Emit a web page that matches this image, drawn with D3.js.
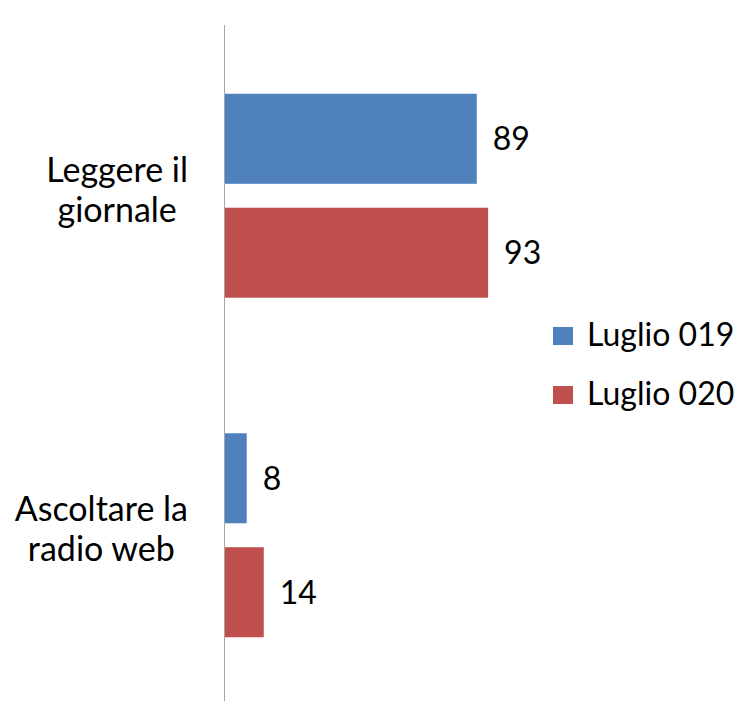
<!DOCTYPE html>
<html>
<head>
<meta charset="utf-8">
<script src="https://cdn.jsdelivr.net/npm/d3@7"></script>
<style>
  body { margin: 0; background: #fff; }
  text { font-family: Lato, "Noto Sans", sans-serif; fill: #000; }
</style>
</head>
<body>
<script>
// data
const categories = ['Leggere il giornale', 'Ascoltare la radio web'];
const categoryLines = [['Leggere il', 'giornale'], ['Ascoltare la', 'radio web']];
const series = ['Luglio 019', 'Luglio 020'];
const values2019 = [89, 8];
const values2020 = [93, 14];
const colors = ['#4F81BD', '#C0504D'];

const width = 740, height = 701;
const fontSize = 32;
const catFontSize = 34;

const svg = d3.select('body')
  .append('svg')
  .attr('width', width)
  .attr('height', height);

// scales
const x = d3.scaleLinear().domain([0, 100]).range([224, 508]);
const y = d3.scaleBand().domain(categories).range([26, 705]).paddingInner(0).paddingOuter(0);
const groupH = 204;
const ySeries = d3.scaleBand().domain(series).range([0, groupH]).paddingInner(0.21).paddingOuter(0);

const rows = categories.map((c, i) => ({
  cat: c,
  vals: [values2019[i], values2020[i]]
}));

// bars
const groups = svg.selectAll('g.cat')
  .data(rows)
  .enter()
  .append('g')
  .attr('class', 'cat')
  .attr('transform', d => `translate(0, ${y(d.cat) + (y.bandwidth() - groupH) / 2})`);

groups.selectAll('rect')
  .data(d => d.vals.map((v, j) => ({ s: series[j], v: v, c: colors[j] })))
  .enter()
  .append('rect')
  .attr('x', x(0))
  .attr('y', d => ySeries(d.s))
  .attr('width', d => x(d.v) - x(0))
  .attr('height', ySeries.bandwidth())
  .attr('fill', d => d.c);

// value labels
groups.selectAll('text.val')
  .data(d => d.vals.map((v, j) => ({ s: series[j], v: v })))
  .enter()
  .append('text')
  .attr('class', 'val')
  .attr('x', d => x(d.v) + 16)
  .attr('y', d => ySeries(d.s) + ySeries.bandwidth() / 2)
  .attr('dy', '0.36em')
  .style('font-size', fontSize + 'px')
  .text(d => d.v);

// axis line
svg.append('line')
  .attr('x1', x(0) + 0.5).attr('x2', x(0) + 0.5)
  .attr('y1', 25).attr('y2', height)
  .attr('stroke', '#A6A6A6')
  .attr('stroke-width', 1);

// category labels: block right-aligned, lines centered
categoryLines.forEach((lines, i) => {
  const cy = y(categories[i]) + y.bandwidth() / 2;
  const g = svg.append('g');
  const texts = g.selectAll('text')
    .data(lines)
    .enter()
    .append('text')
    .attr('text-anchor', 'middle')
    .attr('y', (d, k) => cy + (k - (lines.length - 1) / 2) * 40 - 5)
    .attr('dy', '0.33em')
    .style('font-size', catFontSize + 'px')
    .text(d => d);
  const maxW = d3.max(texts.nodes(), n => n.getComputedTextLength());
  texts.attr('x', 188 - maxW / 2);
});

// legend
const legend = svg.selectAll('g.legend')
  .data(series)
  .enter()
  .append('g')
  .attr('class', 'legend')
  .attr('transform', (d, i) => `translate(553, ${336 + i * 59})`);

legend.append('rect')
  .attr('x', 0).attr('y', -9)
  .attr('width', 20).attr('height', 18)
  .attr('fill', (d, i) => colors[i]);

legend.append('text')
  .attr('x', 34)
  .attr('dy', '0.3em')
  .style('font-size', fontSize + 'px')
  .text(d => d);
</script>
</body>
</html>
